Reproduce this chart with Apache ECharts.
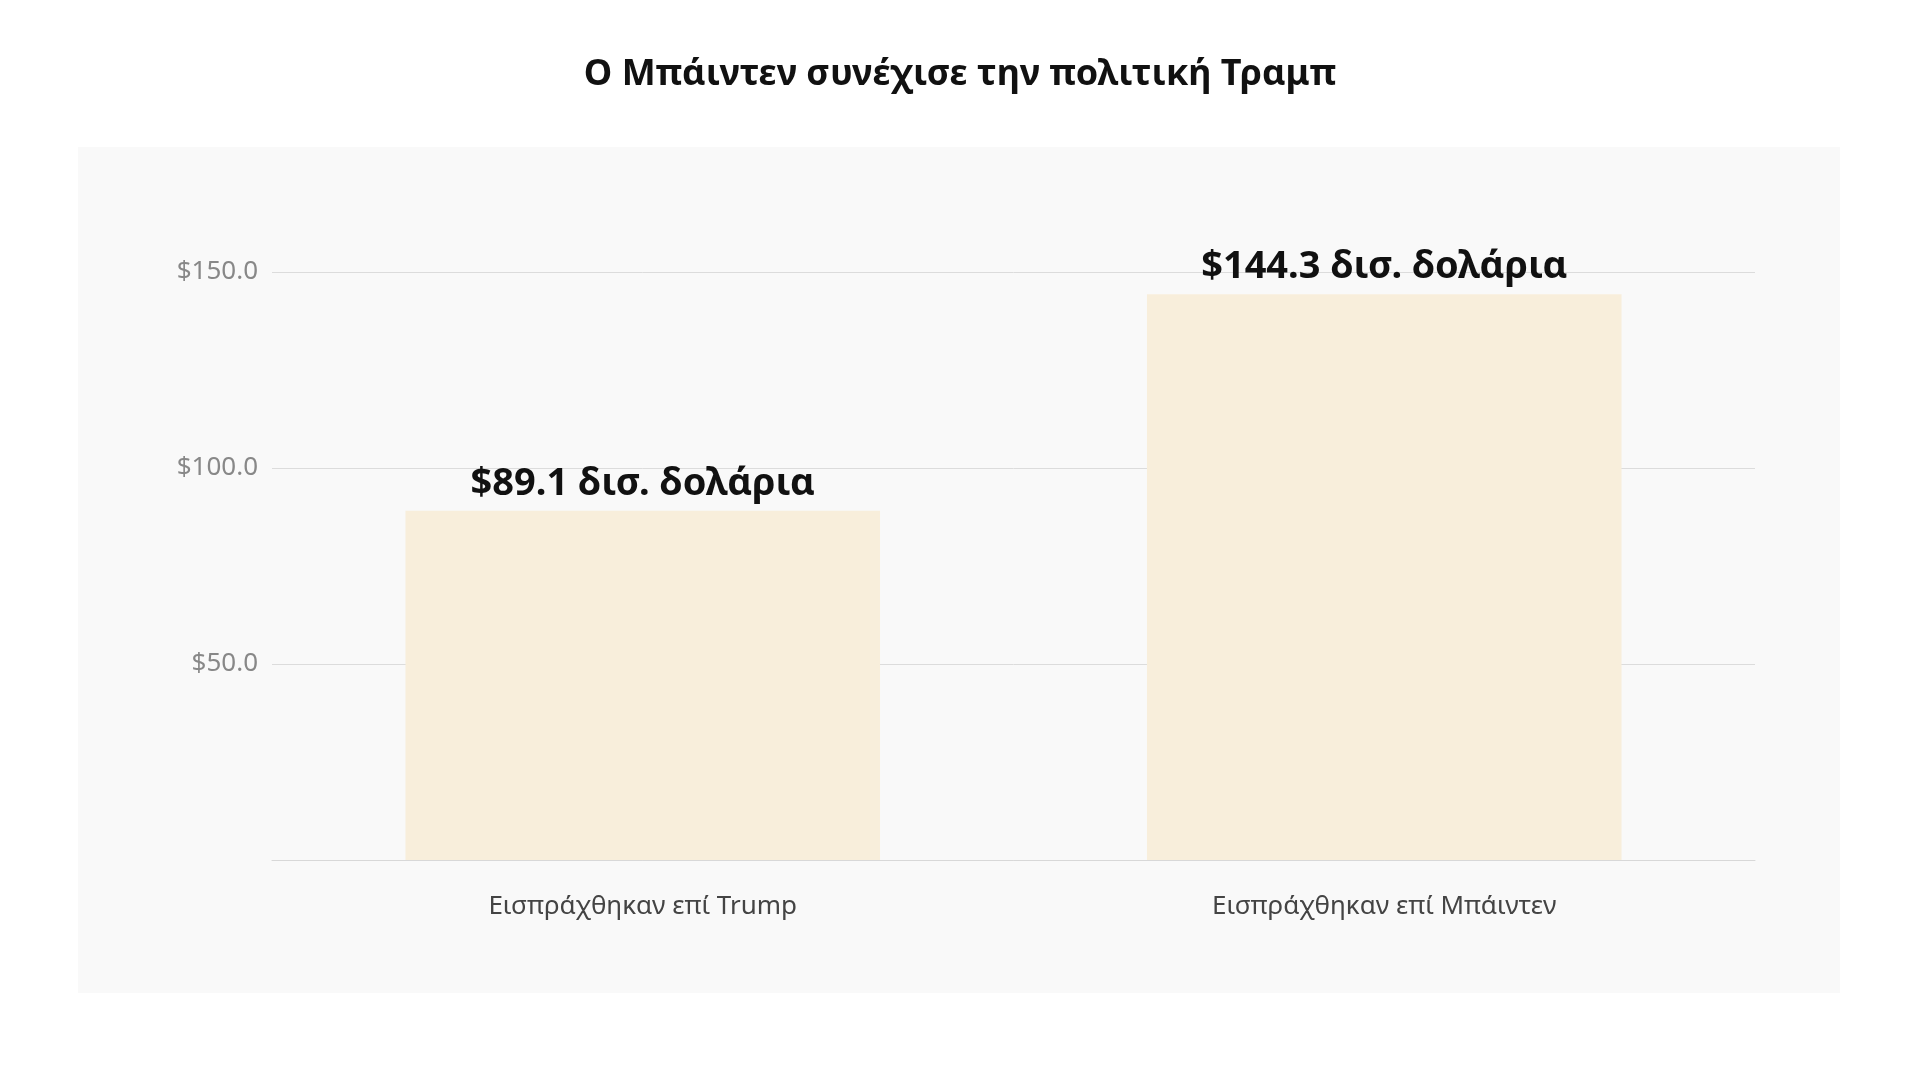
<!DOCTYPE html>
<html>
<head>
<meta charset="utf-8">
<script src="https://cdn.jsdelivr.net/npm/echarts@6/dist/echarts.min.js"></script>
<style>html,body{margin:0;padding:0;background:#fff}#chart{width:1920px;height:1080px}</style>
</head>
<body>
<div id="chart"></div>
<script>
var categories = ['Εισπράχθηκαν επί Trump', 'Εισπράχθηκαν επί Μπάιντεν'];
var values = [89.1, 144.3];
var yTicks = [50, 100, 150];

var chart = echarts.init(document.getElementById('chart'));
chart.setOption({
    backgroundColor: '#ffffff',
    textStyle: { fontFamily: '"Noto Sans", sans-serif' },
    title: {
        text: 'Ο Μπάιντεν συνέχισε την πολιτική Τραμπ',
        left: 'center',
        top: 52,
        textStyle: { fontSize: 36, fontWeight: 'bold', color: '#111' }
    },
    graphic: [{
        type: 'rect',
        shape: { x: 78, y: 147, width: 1762, height: 846 },
        style: { fill: '#f9f9f9' },
        z: -10
    }],
    grid: { left: 272, right: 165, top: 272, bottom: 220 },
    xAxis: {
        type: 'category',
        data: categories,
        axisLine: { lineStyle: { color: '#d8d8d8' } },
        axisTick: { show: false },
        axisLabel: { color: '#444', fontSize: 26, margin: 34 }
    },
    yAxis: {
        type: 'value',
        min: 0,
        max: 150,
        interval: 50,
        axisLine: { show: false },
        axisTick: { show: false },
        splitLine: { lineStyle: { color: '#dcdcdc' } },
        axisLabel: {
            color: '#888', fontSize: 26, margin: 14,
            formatter: function(v) { return yTicks.indexOf(v) >= 0 ? '$' + v.toFixed(1) : ''; }
        }
    },
    series: [{
        type: 'bar',
        data: values,
        barWidth: '64%',
        itemStyle: { color: '#f8eedb' },
        label: {
            show: true,
            position: 'top',
            distance: 8,
            color: '#111',
            fontSize: 38,
            fontWeight: 'bold',
            formatter: function(p) { return '$' + p.value.toFixed(1) + ' δισ. δολάρια'; }
        }
    }]
});
</script>
</body>
</html>
